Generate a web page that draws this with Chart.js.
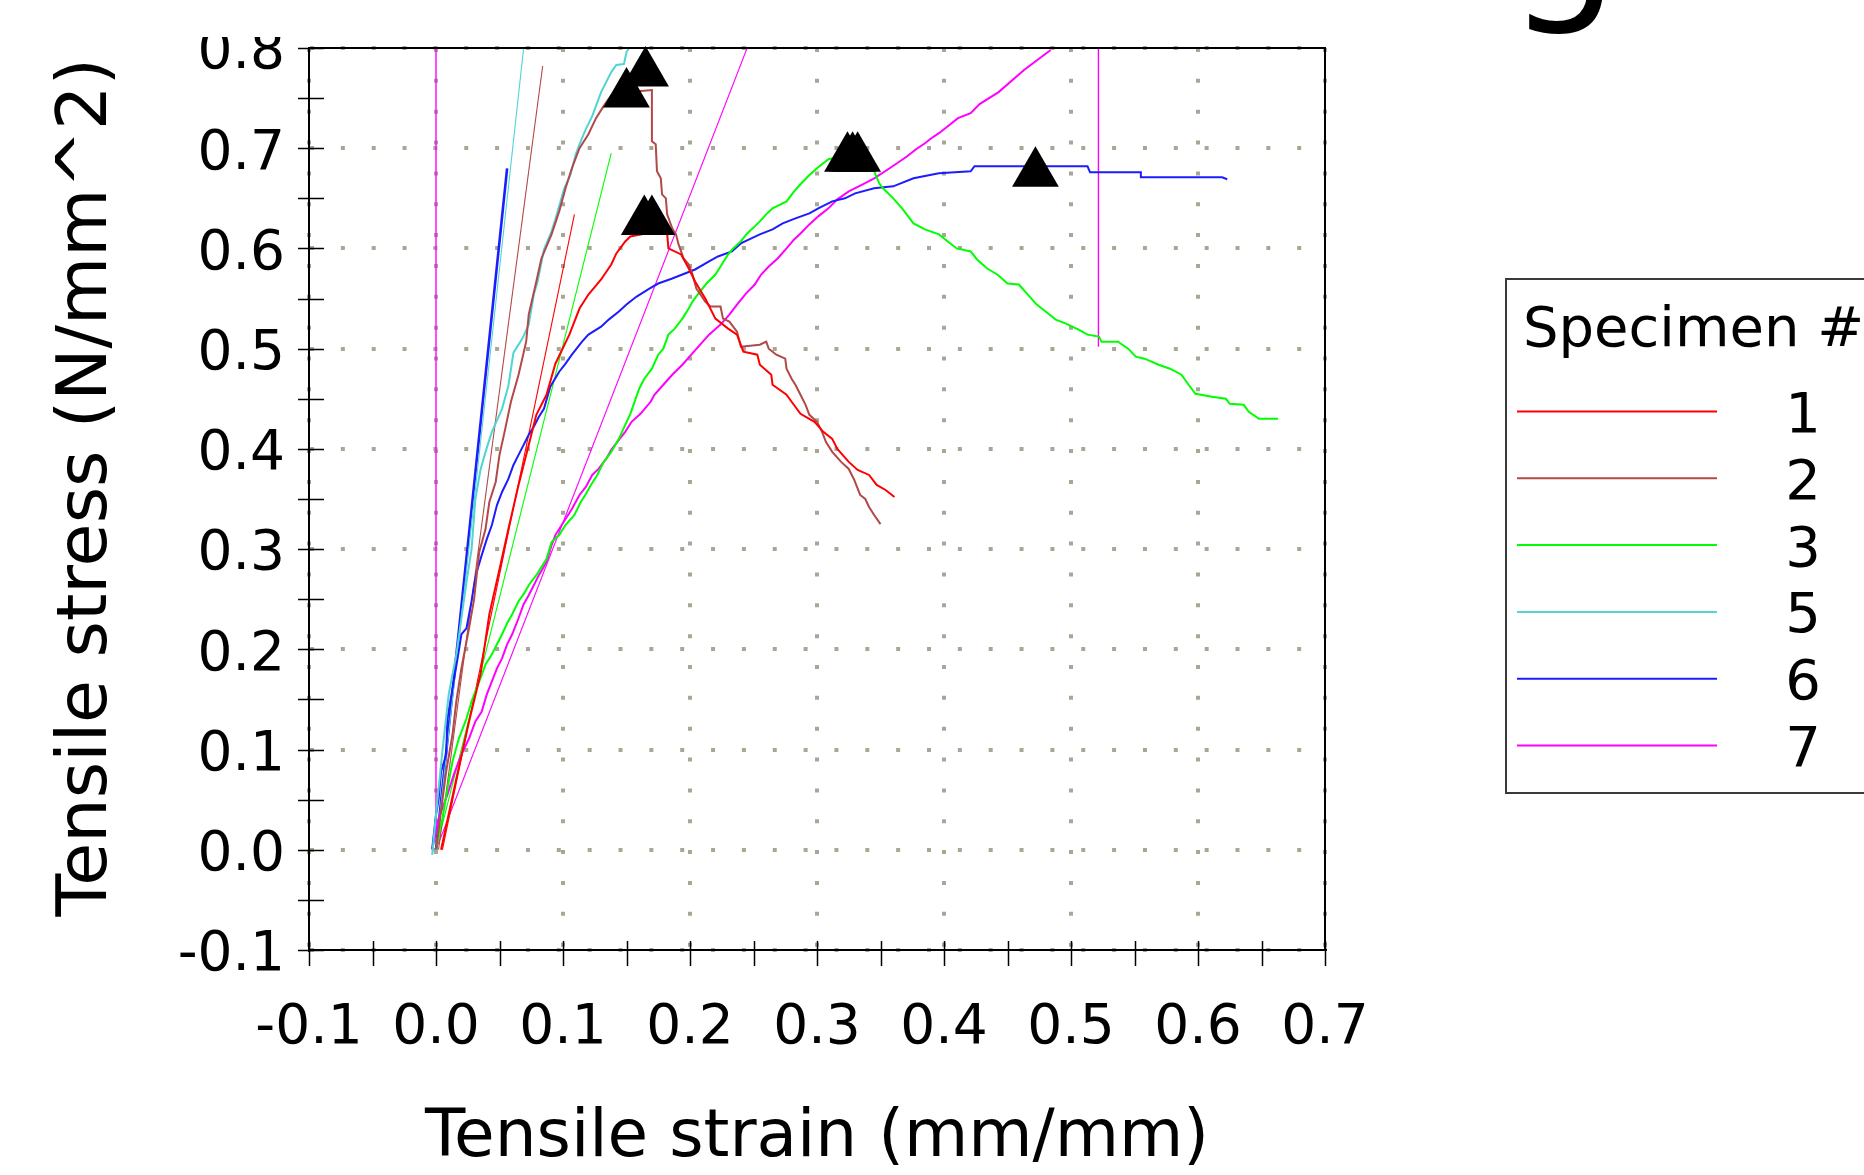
<!DOCTYPE html>
<html>
<head>
<meta charset="utf-8">
<script src="https://cdn.jsdelivr.net/npm/chart.js@4/dist/chart.umd.min.js"></script>
<style>
  html, body { margin: 0; padding: 0; background: #fff; }
  body { width: 1864px; height: 1175px; position: relative; overflow: hidden; }
  #title-tail { position: absolute; left: 1508px; top: -150px; font: 175px/1 'DejaVu Sans', sans-serif; color: #000; }
  #chart { position: absolute; left: 0; top: 37px; }
</style>
</head>
<body>
<div id="title-tail">g</div>
<canvas id="chart" width="1864" height="1138"></canvas>
<script>
// axis ranges / ticks
const strainRange = [-0.1, 0.7];
const stressRange = [-0.1, 0.8];
const tickStep = 0.1;
const minorStep = 0.05;

// legend
const specimens = ['1', '2', '3', '5', '6', '7'];
const specimenColors = ['#ff0000', '#b24848', '#00ff00', '#50d4d4', '#1c1cff', '#ff00ff'];

// stress-strain curves, [strain, stress]
const spec1 = [[0.004,0.000],[0.016,0.071],[0.026,0.128],[0.035,0.175],[0.042,0.235],[0.050,0.280],[0.057,0.320],[0.065,0.364],[0.073,0.404],[0.079,0.434],[0.087,0.454],[0.094,0.485],[0.105,0.514],[0.113,0.540],[0.120,0.554],[0.130,0.569],[0.138,0.584],[0.142,0.595],[0.149,0.607],[0.153,0.612],[0.165,0.615],[0.182,0.615],[0.183,0.600],[0.193,0.594],[0.199,0.580],[0.204,0.567],[0.212,0.550],[0.220,0.530],[0.230,0.520],[0.237,0.514],[0.242,0.497],[0.253,0.494],[0.255,0.484],[0.264,0.474],[0.265,0.464],[0.276,0.454],[0.280,0.447],[0.287,0.435],[0.298,0.427],[0.305,0.417],[0.312,0.410],[0.316,0.400],[0.325,0.387],[0.332,0.379],[0.341,0.374],[0.347,0.364],[0.354,0.359],[0.361,0.352]];
const spec2 = [[0.000,0.001],[0.008,0.078],[0.013,0.115],[0.016,0.148],[0.020,0.181],[0.026,0.221],[0.030,0.250],[0.034,0.297],[0.039,0.320],[0.042,0.347],[0.047,0.367],[0.050,0.394],[0.054,0.417],[0.059,0.447],[0.065,0.474],[0.071,0.507],[0.073,0.534],[0.079,0.567],[0.083,0.590],[0.091,0.614],[0.097,0.637],[0.102,0.660],[0.107,0.680],[0.113,0.700],[0.120,0.714],[0.126,0.730],[0.132,0.742],[0.138,0.753],[0.152,0.756],[0.170,0.758],[0.170,0.707],[0.173,0.704],[0.174,0.677],[0.177,0.670],[0.178,0.654],[0.181,0.650],[0.182,0.634],[0.186,0.620],[0.189,0.614],[0.191,0.604],[0.195,0.590],[0.199,0.584],[0.202,0.574],[0.205,0.560],[0.212,0.547],[0.216,0.542],[0.224,0.542],[0.226,0.530],[0.231,0.527],[0.237,0.517],[0.240,0.502],[0.255,0.504],[0.260,0.507],[0.262,0.500],[0.268,0.494],[0.275,0.490],[0.276,0.480],[0.280,0.470],[0.283,0.464],[0.287,0.454],[0.291,0.444],[0.294,0.434],[0.300,0.427],[0.304,0.417],[0.307,0.407],[0.312,0.397],[0.319,0.387],[0.325,0.380],[0.329,0.370],[0.334,0.354],[0.338,0.350],[0.341,0.342],[0.345,0.334],[0.350,0.325]];
const spec3 = [[0.000,0.005],[0.005,0.031],[0.009,0.061],[0.013,0.088],[0.018,0.111],[0.024,0.131],[0.028,0.148],[0.031,0.158],[0.035,0.171],[0.039,0.185],[0.044,0.195],[0.048,0.205],[0.052,0.215],[0.056,0.226],[0.060,0.235],[0.065,0.248],[0.069,0.255],[0.073,0.264],[0.079,0.274],[0.083,0.282],[0.087,0.290],[0.091,0.307],[0.097,0.314],[0.102,0.324],[0.109,0.334],[0.114,0.347],[0.118,0.355],[0.122,0.364],[0.127,0.374],[0.132,0.387],[0.138,0.397],[0.144,0.410],[0.149,0.424],[0.153,0.435],[0.160,0.460],[0.164,0.470],[0.170,0.480],[0.175,0.494],[0.179,0.500],[0.183,0.514],[0.188,0.520],[0.194,0.530],[0.199,0.540],[0.202,0.547],[0.206,0.554],[0.213,0.565],[0.220,0.574],[0.224,0.582],[0.230,0.594],[0.234,0.600],[0.240,0.607],[0.245,0.615],[0.251,0.622],[0.255,0.627],[0.260,0.634],[0.265,0.640],[0.276,0.647],[0.282,0.657],[0.287,0.664],[0.293,0.672],[0.300,0.680],[0.309,0.689],[0.321,0.692],[0.337,0.689],[0.345,0.677],[0.349,0.665],[0.352,0.660],[0.360,0.650],[0.367,0.640],[0.376,0.625],[0.385,0.619],[0.396,0.614],[0.403,0.607],[0.410,0.600],[0.421,0.597],[0.426,0.589],[0.434,0.580],[0.442,0.574],[0.450,0.565],[0.459,0.564],[0.466,0.554],[0.473,0.544],[0.482,0.535],[0.488,0.529],[0.496,0.525],[0.506,0.519],[0.513,0.514],[0.522,0.512],[0.524,0.507],[0.537,0.507],[0.545,0.500],[0.551,0.492],[0.558,0.490],[0.569,0.484],[0.578,0.480],[0.587,0.474],[0.592,0.465],[0.598,0.455],[0.611,0.452],[0.622,0.450],[0.625,0.445],[0.636,0.444],[0.640,0.437],[0.648,0.430],[0.663,0.430]];
const spec5 = [[-0.003,-0.005],[0.001,0.048],[0.005,0.098],[0.010,0.155],[0.016,0.195],[0.020,0.231],[0.024,0.267],[0.028,0.300],[0.031,0.350],[0.035,0.379],[0.039,0.397],[0.044,0.417],[0.052,0.440],[0.057,0.463],[0.061,0.496],[0.068,0.510],[0.073,0.524],[0.077,0.554],[0.080,0.567],[0.085,0.599],[0.091,0.617],[0.094,0.629],[0.101,0.660],[0.106,0.674],[0.110,0.694],[0.114,0.707],[0.118,0.719],[0.123,0.732],[0.130,0.756],[0.138,0.776],[0.142,0.783],[0.148,0.784],[0.150,0.796],[0.152,0.800]];
const spec6 = [[-0.003,0.001],[0.000,0.035],[0.002,0.050],[0.004,0.078],[0.008,0.095],[0.009,0.131],[0.013,0.161],[0.017,0.191],[0.020,0.215],[0.024,0.221],[0.028,0.248],[0.030,0.264],[0.032,0.277],[0.036,0.294],[0.040,0.310],[0.044,0.324],[0.048,0.344],[0.052,0.357],[0.057,0.370],[0.061,0.384],[0.065,0.394],[0.069,0.404],[0.073,0.414],[0.077,0.422],[0.081,0.432],[0.085,0.440],[0.090,0.462],[0.097,0.477],[0.102,0.485],[0.107,0.494],[0.115,0.507],[0.120,0.514],[0.130,0.522],[0.136,0.529],[0.144,0.537],[0.150,0.544],[0.158,0.552],[0.168,0.560],[0.175,0.565],[0.186,0.570],[0.194,0.574],[0.204,0.579],[0.215,0.587],[0.222,0.592],[0.233,0.597],[0.240,0.605],[0.255,0.614],[0.265,0.619],[0.273,0.625],[0.283,0.630],[0.294,0.635],[0.301,0.640],[0.312,0.647],[0.322,0.650],[0.330,0.655],[0.345,0.660],[0.360,0.662],[0.376,0.670],[0.396,0.675],[0.421,0.677],[0.424,0.682],[0.513,0.682],[0.515,0.676],[0.555,0.676],[0.555,0.671],[0.619,0.671],[0.623,0.669]];
const spec7 = [[-0.003,0.000],[0.002,0.031],[0.009,0.055],[0.014,0.075],[0.020,0.095],[0.026,0.111],[0.031,0.128],[0.036,0.138],[0.040,0.155],[0.044,0.168],[0.048,0.181],[0.052,0.191],[0.056,0.205],[0.060,0.215],[0.065,0.231],[0.069,0.245],[0.073,0.254],[0.077,0.264],[0.081,0.274],[0.087,0.287],[0.091,0.304],[0.094,0.314],[0.098,0.322],[0.102,0.330],[0.107,0.340],[0.113,0.354],[0.118,0.362],[0.123,0.374],[0.128,0.380],[0.134,0.390],[0.138,0.399],[0.144,0.409],[0.149,0.417],[0.154,0.427],[0.161,0.435],[0.169,0.447],[0.172,0.454],[0.179,0.464],[0.186,0.474],[0.194,0.484],[0.201,0.494],[0.208,0.504],[0.215,0.514],[0.224,0.524],[0.231,0.534],[0.237,0.544],[0.244,0.555],[0.251,0.564],[0.256,0.574],[0.262,0.582],[0.269,0.590],[0.276,0.600],[0.282,0.609],[0.287,0.615],[0.294,0.624],[0.301,0.632],[0.309,0.640],[0.316,0.649],[0.325,0.657],[0.336,0.664],[0.345,0.670],[0.356,0.679],[0.363,0.685],[0.371,0.692],[0.378,0.699],[0.385,0.705],[0.390,0.710],[0.396,0.715],[0.403,0.722],[0.411,0.730],[0.421,0.735],[0.428,0.744],[0.443,0.756],[0.463,0.778],[0.484,0.798]];
const specCurves = [spec1, spec2, spec3, spec5, spec6, spec7];

// straight modulus lines per specimen
const fit1 = [[0.005,0.000],[0.109,0.634]];
const fit2 = [[0.002,0.000],[0.084,0.782]];
const fit3 = [[0.000,0.000],[0.138,0.695]];
const fit5 = [[0.000,0.000],[0.069,0.800]];
const fit6 = [[0.000,0.000],[0.056,0.680]];
const fit7 = [[0.000,0.000],[0.245,0.800]];
const fitLines = [fit1, fit2, fit3, fit5, fit6, fit7];
// vertical markers of specimen 7
const mark7a = [[0.000,0.000],[0.000,0.800]];
const mark7b = [[0.5216,0.800],[0.5216,0.502]];

// peak markers (triangles)
const peakMarkers = [[0.165,0.775],[0.150,0.754],[0.164,0.627],[0.170,0.627],[0.324,0.690],[0.328,0.690],[0.332,0.690],[0.472,0.675]];

const FONT = "'DejaVu Sans', Verdana, sans-serif";
const toXY = arr => arr.map(([x, y]) => ({ x, y }));

const datasets = [
  {
    label: 'peaks',
    data: toXY(peakMarkers),
    showLine: false,
    pointStyle: 'triangle',
    pointRadius: 27,
    pointHoverRadius: 27,
    backgroundColor: '#000',
    borderColor: '#000',
    borderWidth: 0,
    clip: false,
  },
];
specCurves.forEach((curve, i) => {
  datasets.push({
    label: specimens[i],
    isSpecimen: true,
    data: toXY(curve),
    showLine: true,
    pointRadius: 0,
    borderColor: specimenColors[i],
    borderWidth: 2,
    tension: 0,
  });
});
fitLines.forEach((line, i) => {
  datasets.push({
    label: 'fit ' + specimens[i],
    data: toXY(line),
    showLine: true,
    pointRadius: 0,
    borderColor: specimenColors[i],
    borderWidth: specimens[i] === '6' ? 2.6 : 1.1,
  });
});
[mark7a, mark7b].forEach(line => {
  datasets.push({
    label: 'mark 7',
    data: toXY(line),
    showLine: true,
    pointRadius: 0,
    borderColor: specimenColors[5],
    borderWidth: 1.4,
  });
});

const fmt = v => (Math.round(v * 10) / 10).toFixed(1);

// frame, crossing tick marks and boxed legend
const decorPlugin = {
  id: 'decor',
  afterDatasetsDraw(chart) {
    const { ctx, chartArea: a, scales: { x, y } } = chart;
    ctx.save();
    ctx.strokeStyle = '#000';
    ctx.lineWidth = 1.5;
    ctx.beginPath();
    const nx = Math.round((strainRange[1] - strainRange[0]) / minorStep);
    for (let i = 0; i <= nx; i++) {
      const px = Math.round(x.getPixelForValue(strainRange[0] + i * minorStep)) + 0.5;
      ctx.moveTo(px, a.bottom - 9);
      ctx.lineTo(px, a.bottom + 16);
    }
    const ny = Math.round((stressRange[1] - stressRange[0]) / minorStep);
    for (let i = 0; i <= ny; i++) {
      const py = Math.round(y.getPixelForValue(stressRange[0] + i * minorStep)) + 0.5;
      ctx.moveTo(a.left - 11, py);
      ctx.lineTo(a.left + 15, py);
    }
    ctx.stroke();
    ctx.lineWidth = 2;
    ctx.strokeRect(a.left, a.top, a.right - a.left, a.bottom - a.top);
    ctx.restore();
  },
  afterDraw(chart) {
    const ctx = chart.ctx;
    ctx.save();
    ctx.strokeStyle = '#3a3a3a';
    ctx.lineWidth = 2;
    ctx.strokeRect(1506, 242, 420, 514);
    ctx.fillStyle = '#000';
    ctx.font = '56px ' + FONT;
    ctx.textAlign = 'left';
    ctx.textBaseline = 'alphabetic';
    ctx.fillText('Specimen #', 1523, 309);
    const entries = chart.data.datasets.filter(d => d.isSpecimen);
    entries.forEach((d, i) => {
      const yy = 374.5 + i * 66.8;
      ctx.strokeStyle = d.borderColor;
      ctx.lineWidth = 2;
      ctx.beginPath();
      ctx.moveTo(1517, yy);
      ctx.lineTo(1717, yy);
      ctx.stroke();
      ctx.font = '56px ' + FONT;
      ctx.textAlign = 'center';
      ctx.textBaseline = 'middle';
      ctx.fillText(d.label, 1803, yy + 6);
    });
    ctx.restore();
  },
};

const gridStyle = {
  color: '#aaa696',
  lineWidth: 4,
  drawTicks: false,
};
const borderStyle = { display: true, color: '#000', width: 2, dash: [4, 26.85], dashOffset: 0 };

new Chart(document.getElementById('chart'), {
  type: 'scatter',
  data: { datasets },
  options: {
    responsive: false,
    animation: false,
    devicePixelRatio: 1,
    events: [],
    layout: { autoPadding: false, padding: { left: 0, top: 11, right: 539, bottom: 0 } },
    plugins: {
      legend: { display: false },
      tooltip: { enabled: false },
    },
    scales: {
      x: {
        type: 'linear',
        min: strainRange[0],
        max: strainRange[1],
        grid: gridStyle,
        border: borderStyle,
        ticks: {
          stepSize: tickStep,
          autoSkip: false,
          maxRotation: 0,
          minRotation: 0,
          padding: 46,
          color: '#000',
          font: { family: FONT, size: 55 },
          callback: v => fmt(v),
        },
        title: {
          display: true,
          text: 'Tensile strain (mm/mm)',
          color: '#000',
          font: { family: FONT, size: 66, lineHeight: 1 },
          padding: { top: 0, bottom: 3 },
        },
        afterFit(scale) {
          scale.height = 225;
          scale.paddingLeft = 0;
          scale.paddingRight = 0;
        },
      },
      y: {
        type: 'linear',
        min: stressRange[0],
        max: stressRange[1],
        grid: gridStyle,
        border: borderStyle,
        ticks: {
          stepSize: tickStep,
          autoSkip: false,
          padding: 24,
          labelOffset: 6,
          color: '#000',
          font: { family: FONT, size: 55 },
          callback: v => fmt(v),
        },
        title: {
          display: true,
          text: '\u2006\u2006Tensile stress (N/mm^2)',
          color: '#000',
          font: { family: FONT, size: 70, lineHeight: 1 },
          padding: { top: 53, bottom: 0 },
        },
        afterFit(scale) {
          scale.width = 309;
          scale.paddingTop = 0;
          scale.paddingBottom = 0;
        },
      },
    },
  },
  plugins: [decorPlugin],
});
</script>
</body>
</html>
